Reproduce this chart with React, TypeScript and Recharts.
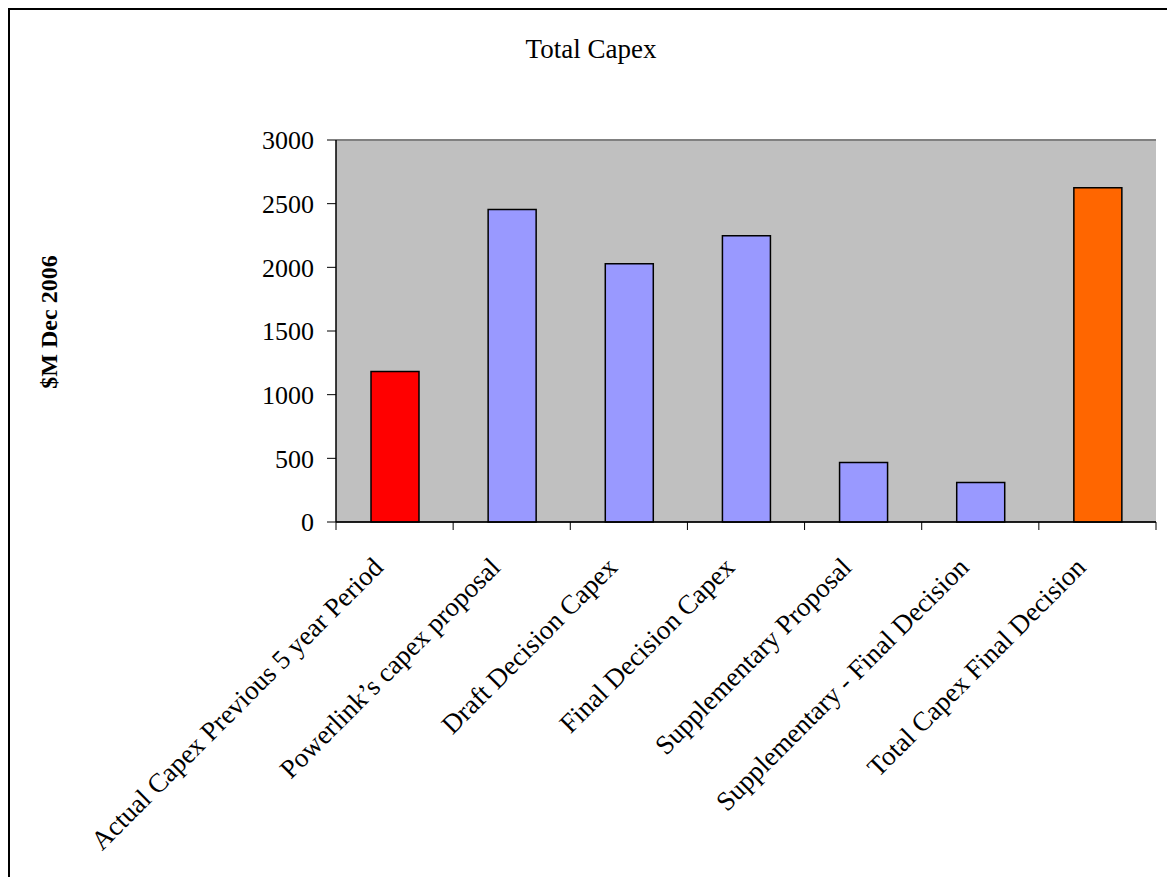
import React from 'react';
import { BarChart, Bar, XAxis, YAxis, CartesianGrid, Cell, ReferenceLine } from 'recharts';

const categories = [
  'Actual Capex Previous 5 year Period',
  'Powerlink\u2019s capex proposal',
  'Draft Decision Capex',
  'Final Decision Capex',
  'Supplementary Proposal',
  'Supplementary - Final Decision',
  'Total Capex Final Decision',
];
const capexValues = [1182, 2455, 2028, 2248, 467, 310, 2625];
const barColors = ['#FF0000', '#9999FF', '#9999FF', '#9999FF', '#9999FF', '#9999FF', '#FF6600'];
const yTicks = [0, 500, 1000, 1500, 2000, 2500, 3000];

const data = categories.map((name, i) => ({ name, value: capexValues[i] }));

const FONT = "'Palatino Linotype', 'Book Antiqua', Palatino, 'Liberation Serif', serif";

const CategoryTick = (props: any) => {
  const { x, y, payload, index, visibleTicksCount, width } = props;
  const half = (width || 820) / (visibleTicksCount || 7) / 2;
  const tx = x - 10;
  const ty = y + 47;
  return (
    <g>
      <line x1={x - half} x2={x - half} y1={y} y2={y + 8} stroke="#000" strokeWidth={1} />
      {index === visibleTicksCount - 1 && (
        <line x1={x + half} x2={x + half} y1={y} y2={y + 8} stroke="#000" strokeWidth={1} />
      )}
      <text
        x={tx}
        y={ty}
        transform={`rotate(-45, ${tx}, ${ty})`}
        textAnchor="end"
        fontSize={27}
        fontFamily={FONT}
        fill="#000"
      >
        {payload.value}
      </text>
    </g>
  );
};

export default function App() {
  return (
    <div
      style={{
        position: 'relative',
        width: 1162,
        height: 874,
        border: '2px solid #000',
        boxSizing: 'border-box',
        background: '#fff',
      }}
    >
      <BarChart
        width={1158}
        height={860}
        data={data}
        margin={{ top: 130, right: 12, bottom: 18, left: 246 }}
      >
        <CartesianGrid vertical={false} stroke="#000" fill="#C0C0C0" fillOpacity={1} />
        <XAxis
          dataKey="name"
          interval={0}
          height={330}
          axisLine={{ stroke: '#000', strokeWidth: 1.5 }}
          tickLine={false}
          tickSize={0}
          tickMargin={0}
          tick={<CategoryTick />}
        />
        <YAxis
          yAxisId="left"
          width={80}
          domain={[0, 3000]}
          ticks={yTicks}
          interval={0}
          tickSize={9}
          tickMargin={13}
          axisLine={{ stroke: '#000', strokeWidth: 1.5 }}
          tickLine={{ stroke: '#000' }}
          tick={{ fill: '#000', fontSize: 26, fontFamily: FONT }}
        />
        <YAxis
          yAxisId="right"
          orientation="right"
          width={0}
          domain={[0, 3000]}
          tick={false}
          tickLine={false}
          axisLine={{ stroke: '#808080', strokeWidth: 2 }}
        />
        <ReferenceLine yAxisId="left" y={3000} stroke="#808080" strokeWidth={2} />
        <Bar
          yAxisId="left"
          dataKey="value"
          barSize={48}
          stroke="#000"
          strokeWidth={1.5}
          isAnimationActive={false}
        >
          {data.map((d, i) => (
            <Cell key={d.name} fill={barColors[i]} />
          ))}
        </Bar>
      </BarChart>
      <svg
        width={1158}
        height={860}
        style={{ position: 'absolute', left: 0, top: 0, pointerEvents: 'none' }}
      >
        <text x={581} y={48} textAnchor="middle" fontSize={27} fontFamily={FONT} fill="#000">
          Total Capex
        </text>
        <text
          x={47}
          y={312}
          transform="rotate(-90, 47, 312)"
          textAnchor="middle"
          fontSize={24}
          fontWeight="bold"
          fontFamily={FONT}
          fill="#000"
        >
          $M Dec 2006
        </text>
      </svg>
    </div>
  );
}
